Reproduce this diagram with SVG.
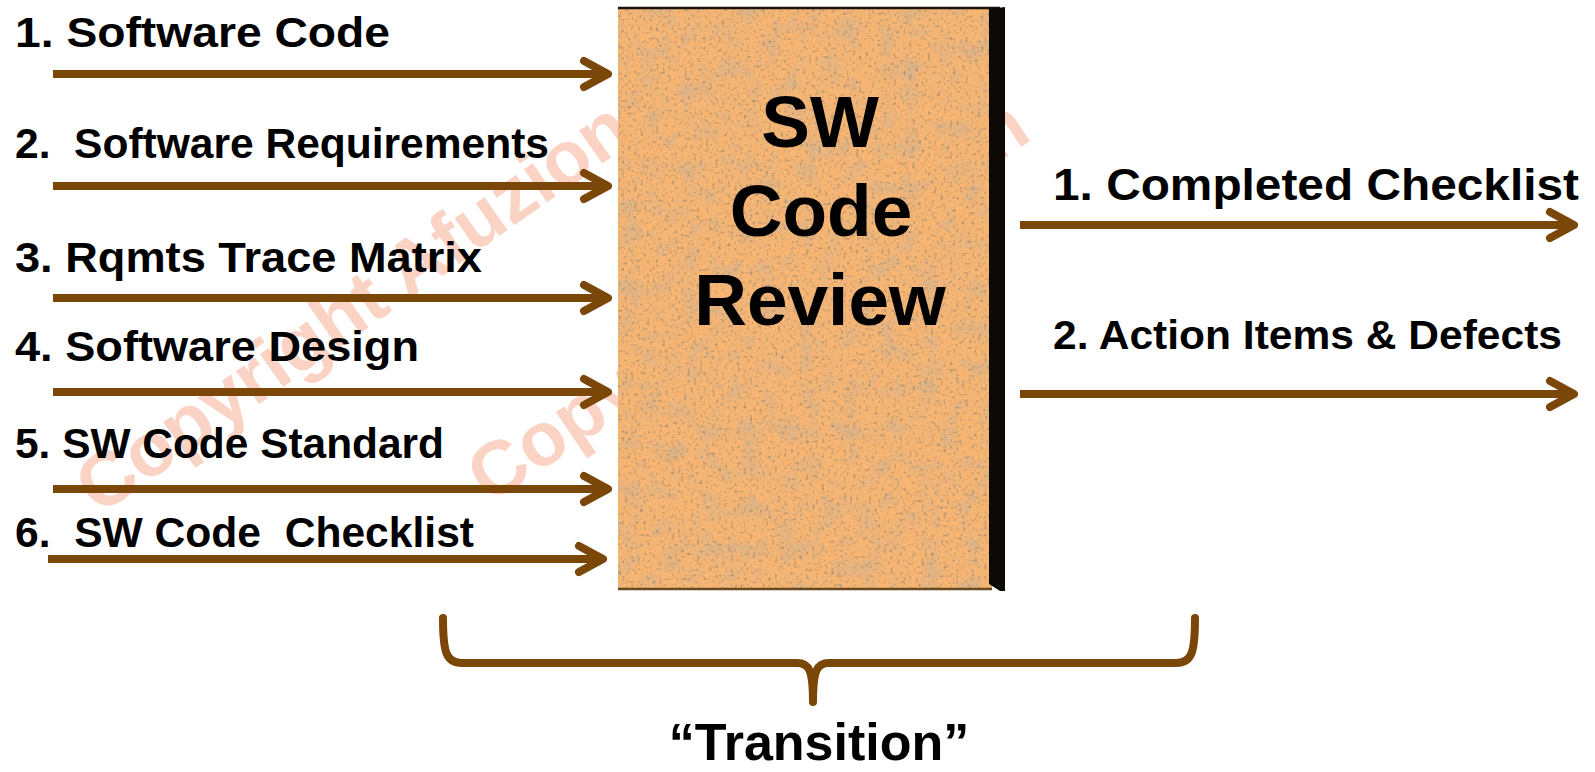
<svg xmlns="http://www.w3.org/2000/svg" width="1595" height="772" viewBox="0 0 1595 772">
<style>
  .lbl { font-family: "Liberation Sans", Arial, sans-serif; font-weight: bold; fill: #000; white-space: pre; }
  .wm { font-family: "Liberation Sans", Arial, sans-serif; font-weight: bold; fill: #FAD3C4; font-size: 76px; }
  .conn { fill: none; stroke: #7A4709; stroke-width: 8; }
</style>
<defs>
  <marker id="chev" viewBox="-30 -18 36 36" refX="0" refY="0" markerWidth="36" markerHeight="36" markerUnits="userSpaceOnUse" orient="auto">
    <path d="M-24,-13 L0,0 L-24,13" fill="none" stroke="#7A4709" stroke-width="8" stroke-linecap="round" stroke-linejoin="round"/>
  </marker>
  <filter id="sand" x="0" y="0" width="100%" height="100%">
    <feTurbulence type="fractalNoise" baseFrequency="0.05" numOctaves="3" seed="11" result="n1"/>
    <feColorMatrix in="n1" type="matrix" values="0 0 0 0 0.62  0 0 0 0 0.45  0 0 0 0 0.28  1.6 0 0 0 -0.72" result="blot"/>
    <feTurbulence type="fractalNoise" baseFrequency="0.32" numOctaves="2" seed="4" result="n2"/>
    <feColorMatrix in="n2" type="matrix" values="0 0 0 0 0.40  0 0 0 0 0.28  0 0 0 0 0.16  3.4 0 0 0 -1.85" result="spk"/>
    <feMerge result="tex"><feMergeNode in="SourceGraphic"/><feMergeNode in="blot"/><feMergeNode in="spk"/></feMerge>
    <feComposite in="tex" in2="SourceGraphic" operator="in"/>
  </filter>
</defs>
<rect width="1595" height="772" fill="#fff"/>

<g id="watermark">
  <text class="wm" transform="translate(99,516) rotate(-35)">Copyright Afuzion</text>
  <text class="wm" transform="translate(490,505) rotate(-34)">Copyright Afuzion</text>
</g>

<g id="connectors">
  <path class="conn" d="M53,74 H608" marker-end="url(#chev)"/>
  <path class="conn" d="M53,186 H608" marker-end="url(#chev)"/>
  <path class="conn" d="M53,298 H608" marker-end="url(#chev)"/>
  <path class="conn" d="M53,392 H608" marker-end="url(#chev)"/>
  <path class="conn" d="M53,489 H608" marker-end="url(#chev)"/>
  <path class="conn" d="M48,559 H603" marker-end="url(#chev)"/>
  <path class="conn" d="M1020,225 H1574" marker-end="url(#chev)"/>
  <path class="conn" d="M1020,394 H1574" marker-end="url(#chev)"/>
</g>

<g id="inputs">
  <text class="lbl" x="15" y="47" font-size="43" textLength="375" lengthAdjust="spacingAndGlyphs">1. Software Code</text>
  <text class="lbl" x="15" y="158" font-size="43" textLength="534" lengthAdjust="spacingAndGlyphs" xml:space="preserve">2.  Software Requirements</text>
  <text class="lbl" x="15" y="272" font-size="43" textLength="467" lengthAdjust="spacingAndGlyphs">3. Rqmts Trace Matrix</text>
  <text class="lbl" x="15" y="361" font-size="43" textLength="404" lengthAdjust="spacingAndGlyphs">4. Software Design</text>
  <text class="lbl" x="15" y="458" font-size="43" textLength="429" lengthAdjust="spacingAndGlyphs">5. SW Code Standard</text>
  <text class="lbl" x="15" y="547" font-size="43" textLength="459" lengthAdjust="spacingAndGlyphs" xml:space="preserve">6.  SW Code  Checklist</text>
</g>

<g id="review-box">
  <rect x="618" y="8" width="374" height="582" fill="#F6B572" filter="url(#sand)"/>
  <line x1="618" y1="8" x2="1000" y2="8" stroke="#1a1208" stroke-width="2.5"/>
  <line x1="618" y1="589" x2="992" y2="589" stroke="#6B4A22" stroke-width="2.5"/>
  <polygon points="989,9 1005,7 1005,591 1000,591 989,584" fill="#0d0a05"/>
  <text class="lbl" x="820" y="147" font-size="73" text-anchor="middle">SW</text>
  <text class="lbl" x="821" y="236" font-size="73" text-anchor="middle">Code</text>
  <text class="lbl" x="820" y="325" font-size="73" text-anchor="middle">Review</text>
</g>

<g id="outputs">
  <text class="lbl" x="1053" y="200" font-size="45" textLength="526" lengthAdjust="spacingAndGlyphs">1. Completed Checklist</text>
  <text class="lbl" x="1053" y="349" font-size="41" textLength="509" lengthAdjust="spacingAndGlyphs">2. Action Items &amp; Defects</text>
</g>

<g id="transition">
  <path class="conn" d="M443,618 C443,652 446,663 462,663 L797,663 C809,663 813,670 813,702 C813,670 817,663 829,663 L1176,663 C1192,663 1195,652 1195,618" stroke-linejoin="round" stroke-linecap="round"/>
  <text class="lbl" x="819" y="760" font-size="52" text-anchor="middle">“Transition”</text>
</g>
</svg>
